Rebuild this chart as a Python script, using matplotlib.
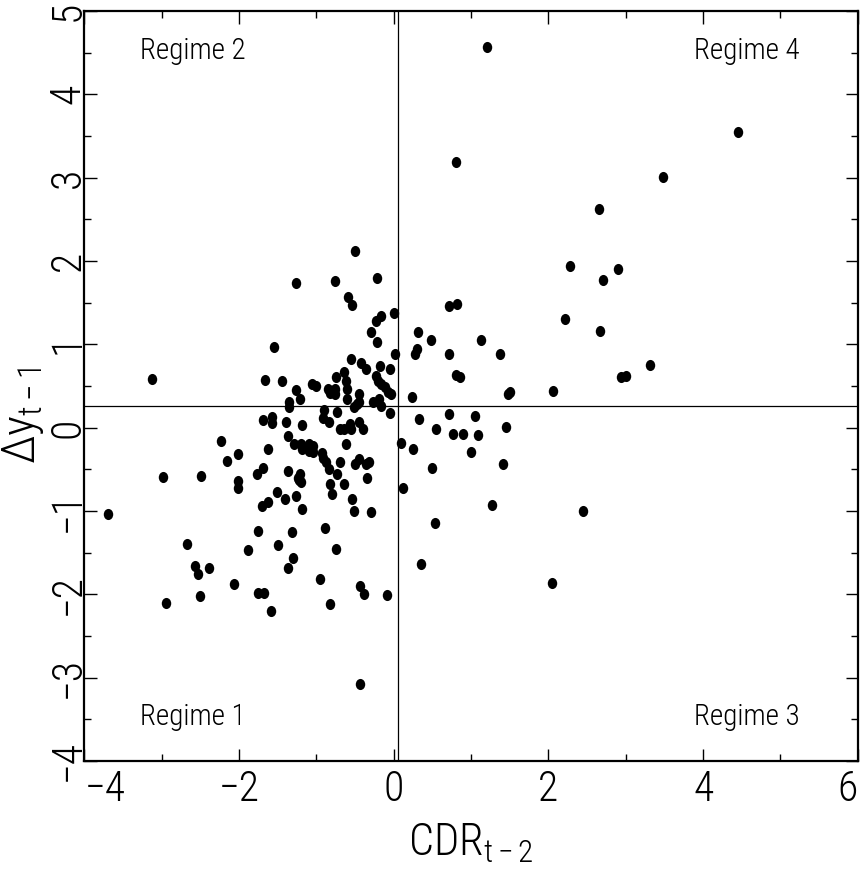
import matplotlib
matplotlib.use("Agg")
import matplotlib.pyplot as plt
from matplotlib import font_manager as fm
from matplotlib.path import Path
from matplotlib.transforms import Affine2D
from matplotlib.ticker import MultipleLocator

# scatter values (CDR_{t-2}, dy_{t-1})
cdr_lag2 = [1.21, 4.45, 3.48, 0.80, 2.66, 2.28, 2.90, 2.71, 2.21, 2.67,
            3.31, 2.94, 3.00, 1.13, 1.37, 1.50, 1.48, 2.06, 1.05, 1.45,
            1.09, 1.00, 1.41, 1.27, 2.45, 2.05, -0.50, -1.26, -0.76, -0.22,
            -0.59, -0.54, 0.71, 0.82, 0.00, -0.16, -0.23, -0.30, -0.22, 0.32,
            0.48, 0.30, 0.28, 0.71, 0.02, -0.55, -0.42, -0.36, -0.18, -0.05,
            0.80, 0.86, -1.45, -0.75, -0.64, -0.62, -0.23, -0.20, -0.17, -0.11,
            -0.07, -0.04, -1.06, -1.01, -1.26, -1.21, -0.85, -0.83, -0.76, -0.76,
            -0.60, -0.60, -0.45, -0.45, 0.24, -1.36, -1.36, -0.27, -0.19, -0.16,
            -0.51, -0.48, -0.90, -0.73, -0.05, -0.92, -0.84, -1.39, -1.18, -0.70,
            -0.57, -0.45, -0.55, -0.40, -0.64, 0.33, 0.71, 0.55, -3.12, -1.55,
            -1.66, -1.69, -1.57, -1.57, -1.37, -2.23, -2.01, -2.15, -1.63, -2.98,
            -2.49, -2.01, -2.01, -1.77, -1.69, -1.37, -1.51, -1.41, -1.71, -1.62,
            -3.70, -1.75, -2.67, -1.88, -1.50, -1.37, -2.57, -2.53, -2.39, -2.07,
            -1.76, -1.68, -2.95, -2.51, -1.59, 0.77, 0.90, -1.29, -1.20, -1.19,
            -1.09, -1.05, -1.10, -1.05, -0.93, -0.91, -0.88, -0.84, -0.62, -0.69,
            -0.50, -0.45, -0.36, -0.32, 0.09, 0.25, -1.24, -1.21, -1.20, -1.23,
            -0.73, -0.83, -0.64, -0.35, 0.50, -1.27, -1.19, -0.80, -0.54, -0.51,
            -0.30, 0.12, 0.53, -1.31, -0.89, -1.30, -0.75, 0.35, -0.96, -0.44,
            -0.39, -0.09, -0.82, -0.43]
dy_lag1 = [4.57, 3.55, 3.01, 3.19, 2.62, 1.94, 1.91, 1.77, 1.30, 1.16,
           0.75, 0.61, 0.62, 1.05, 0.88, 0.43, 0.40, 0.44, 0.14, 0.01,
           -0.09, -0.29, -0.44, -0.93, -1.00, -1.86, 2.12, 1.74, 1.76, 1.80,
           1.57, 1.47, 1.46, 1.48, 1.38, 1.34, 1.28, 1.15, 1.03, 1.15,
           1.05, 0.94, 0.89, 0.89, 0.88, 0.82, 0.78, 0.70, 0.74, 0.70,
           0.63, 0.61, 0.56, 0.61, 0.67, 0.56, 0.62, 0.56, 0.52, 0.49,
           0.43, 0.40, 0.53, 0.50, 0.45, 0.34, 0.46, 0.42, 0.46, 0.41,
           0.46, 0.35, 0.40, 0.31, 0.37, 0.31, 0.25, 0.31, 0.35, 0.26,
           0.25, 0.28, 0.21, 0.19, 0.18, 0.12, 0.07, 0.07, 0.03, -0.01,
           0.05, 0.07, -0.01, -0.02, -0.02, 0.10, 0.17, -0.01, 0.58, 0.97,
           0.57, 0.09, 0.13, 0.06, -0.10, -0.16, -0.32, -0.40, -0.26, -0.59,
           -0.58, -0.64, -0.72, -0.56, -0.48, -0.52, -0.77, -0.86, -0.94, -0.89,
           -1.04, -1.24, -1.40, -1.47, -1.41, -1.68, -1.66, -1.76, -1.68, -1.88,
           -1.99, -1.99, -2.10, -2.02, -2.20, -0.08, -0.08, -0.20, -0.19, -0.26,
           -0.20, -0.22, -0.28, -0.29, -0.30, -0.36, -0.41, -0.50, -0.19, -0.41,
           -0.44, -0.38, -0.44, -0.41, -0.18, -0.26, -0.60, -0.55, -0.65, -0.63,
           -0.56, -0.67, -0.67, -0.60, -0.48, -0.82, -0.97, -0.80, -0.86, -1.00,
           -1.01, -0.72, -1.15, -1.25, -1.20, -1.56, -1.46, -1.64, -1.82, -1.90,
           -2.00, -2.01, -2.12, -3.08]

x_threshold = 0.05
y_threshold = 0.26

regimes = ["Regime 1", "Regime 2", "Regime 3", "Regime 4"]
x_ticks = [-4, -2, 0, 2, 4, 6]
y_ticks = [-4, -3, -2, -1, 0, 1, 2, 3, 4, 5]


def _num(v, table):
    if isinstance(v, str):
        return table.get(v, 500)
    return int(v)


def pick_font():
    # the original uses a thin, narrow plotter font: look for a light condensed face
    prefs = ["Noto Sans", "Roboto Condensed", "Open Sans", "Liberation Sans Narrow",
             "Roboto", "DejaVu Sans", "Lato", "Inter"]
    best = None
    for rank, fam in enumerate(prefs):
        for f in fm.fontManager.ttflist:
            if f.name != fam or f.style != "normal":
                continue
            w = _num(f.weight, fm.weight_dict)
            s = _num(f.stretch, fm.stretch_dict)
            score = abs(s - 300) / 100 + abs(w - 300) / 100 + 0.3 * rank
            if best is None or score < best[0]:
                best = (score, f.name, f.weight, f.stretch)
    if best is None:
        return "DejaVu Sans", "normal", "normal"
    return best[1], best[2], best[3]


fam, wt, st = pick_font()
plt.rcParams["font.family"] = [fam, "DejaVu Sans"]
plt.rcParams["font.weight"] = wt
plt.rcParams["font.stretch"] = st
plt.rcParams["mathtext.fontset"] = "custom"
plt.rcParams["mathtext.rm"] = fam
plt.rcParams["mathtext.it"] = fam
plt.rcParams["mathtext.default"] = "rm"
plt.rcParams["axes.unicode_minus"] = True

fig = plt.figure(figsize=(8.65, 8.75), dpi=100)
ax = fig.add_axes([0.0976, 0.1303, 0.8940, 0.8571])

# slightly tall ellipse like the original dots
dot = Path.unit_circle().transformed(Affine2D().scale(0.85, 1.0))
ax.plot(cdr_lag2, dy_lag1, linestyle="none", marker=dot, markersize=8,
        color="black", markeredgewidth=0)

ax.axvline(x_threshold, color="black", lw=0.9)
ax.axhline(y_threshold, color="black", lw=0.9)

ax.set_xlim(-4, 6)
ax.set_ylim(-4, 5)

ax.xaxis.set_minor_locator(MultipleLocator(1))
ax.yaxis.set_minor_locator(MultipleLocator(0.5))
ax.set_xticks(x_ticks)
ax.set_yticks(y_ticks)
ax.set_xticklabels(["\u2212" + str(-t) if t < 0 else str(t) for t in x_ticks],
                   fontsize=30)
ax.set_yticklabels(["\u2212" + str(-t) if t < 0 else str(t) for t in y_ticks],
                   fontsize=30, rotation=90, va="center")
# end labels kept inside the frame, as in the original
ax.get_xticklabels()[0].set_horizontalalignment("left")
ax.get_xticklabels()[-1].set_horizontalalignment("right")

ax.tick_params(which="both", direction="in", top=True, right=True,
               color="black", width=1.0)
ax.tick_params(which="major", length=9)
ax.tick_params(which="minor", length=5)
ax.tick_params(axis="x", pad=6)
ax.tick_params(axis="y", pad=-3)

for s in ax.spines.values():
    s.set_linewidth(1.6)

ax.set_xlabel(r"$\mathrm{CDR}_{\mathrm{t-2}}$", fontsize=32, labelpad=8)
ax.set_ylabel(r"$\Delta\mathrm{y}_{\mathrm{t-1}}$", fontsize=34)
ax.yaxis.set_label_coords(-0.05, 0.46)

txt = dict(fontsize=21, transform=ax.transAxes, va="center", ha="left")
ax.text(0.072, 0.058, regimes[0], **txt)
ax.text(0.072, 0.947, regimes[1], **txt)
ax.text(0.788, 0.058, regimes[2], **txt)
ax.text(0.788, 0.947, regimes[3], **txt)

fig.savefig("out.png", dpi=100)
